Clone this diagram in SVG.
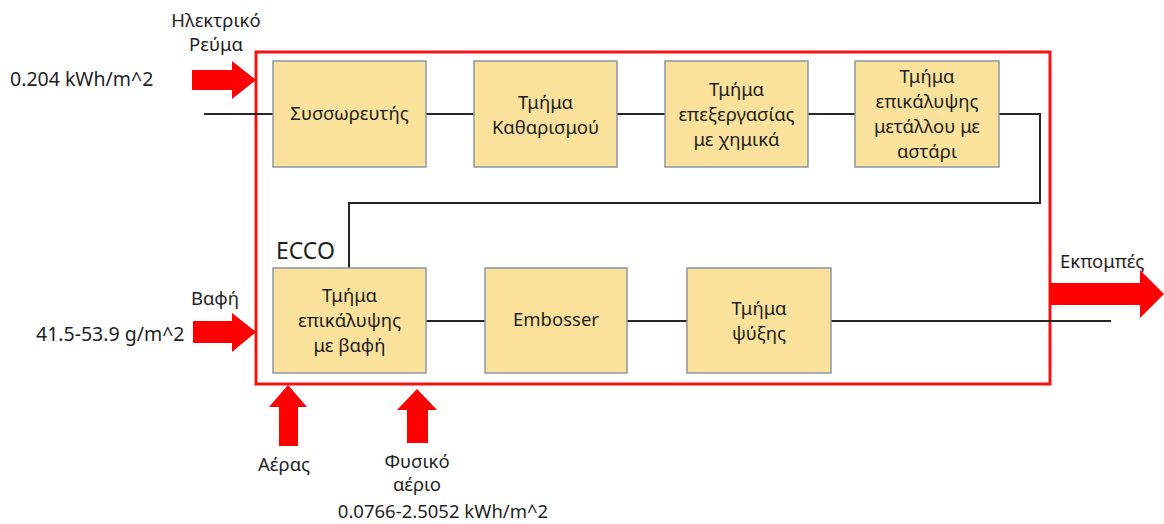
<svg xmlns="http://www.w3.org/2000/svg" width="1164" height="524" viewBox="0 0 1164 524">
  <style>
    text { font-family: "Noto Sans", "Liberation Sans", sans-serif; font-size: 18.5px; fill: #1e1e1e; }
    .c { text-anchor: middle; }
    .lbl { font-size: 19.5px; }
    .box { fill: #FAE29C; stroke: #8C96A3; stroke-width: 1.5; }
    .wire { fill: none; stroke: #262626; stroke-width: 2; }
    .frame { fill: none; stroke: #F01414; stroke-width: 3; }
    .flow { fill: #FF0000; }
  </style>

  <!-- system boundary -->
  <rect class="frame" x="256" y="52" width="794" height="332"/>
  <text x="276" y="259" style="font-size:23px">ECCO</text>

  <!-- process line -->
  <g id="connectors">
    <line class="wire" x1="204" y1="114" x2="273" y2="114"/>
    <line class="wire" x1="426" y1="114" x2="474" y2="114"/>
    <line class="wire" x1="617" y1="114" x2="665" y2="114"/>
    <line class="wire" x1="808" y1="114" x2="855" y2="114"/>
    <polyline class="wire" points="999,114 1040,114 1040,203 349,203 349,268"/>
    <line class="wire" x1="426" y1="321" x2="485" y2="321"/>
    <line class="wire" x1="627" y1="321" x2="687" y2="321"/>
    <line class="wire" x1="831" y1="321" x2="1111" y2="321"/>
  </g>

  <g id="n-accumulator">
    <rect class="box" x="273" y="61" width="153" height="106"/>
    <text class="c" x="349.5" y="120">Συσσωρευτής</text>
  </g>
  <g id="n-cleaning">
    <rect class="box" x="474" y="61" width="143" height="106"/>
    <text class="c" x="545.5" y="109">Τμήμα</text>
    <text class="c" x="545.5" y="134">Καθαρισμού</text>
  </g>
  <g id="n-chemical">
    <rect class="box" x="665" y="61" width="143" height="106"/>
    <text class="c" x="736.5" y="96">Τμήμα</text>
    <text class="c" x="736.5" y="121">επεξεργασίας</text>
    <text class="c" x="736.5" y="146">με χημικά</text>
  </g>
  <g id="n-primer">
    <rect class="box" x="855" y="61" width="144" height="106"/>
    <text class="c" x="927" y="83">Τμήμα</text>
    <text class="c" x="927" y="108">επικάλυψης</text>
    <text class="c" x="927" y="133">μετάλλου με</text>
    <text class="c" x="927" y="158">αστάρι</text>
  </g>
  <g id="n-paint">
    <rect class="box" x="273" y="268" width="153" height="105"/>
    <text class="c" x="349.5" y="302">Τμήμα</text>
    <text class="c" x="349.5" y="327">επικάλυψης</text>
    <text class="c" x="349.5" y="352">με βαφή</text>
  </g>
  <g id="n-embosser">
    <rect class="box" x="485" y="268" width="142" height="105"/>
    <text class="c" x="556" y="326">Embosser</text>
  </g>
  <g id="n-cooling">
    <rect class="box" x="687" y="268" width="144" height="105"/>
    <text class="c" x="759" y="315">Τμήμα</text>
    <text class="c" x="759" y="340">ψύξης</text>
  </g>

  <!-- inputs and outputs -->
  <g id="in-electricity">
    <polygon class="flow" points="192,70 232,70 232,61 256,80 232,99 232,90 192,90"/>
    <text class="c" x="216" y="27">Ηλεκτρικό</text>
    <text class="c" x="216" y="51">Ρεύμα</text>
    <text class="lbl" x="10" y="86">0.204 kWh/m^2</text>
  </g>
  <g id="in-paint">
    <polygon class="flow" points="193,321 232,321 232,313 256,332 232,352 232,343 193,343"/>
    <text class="c" x="215" y="305">Βαφή</text>
    <text class="lbl" x="36" y="341">41.5-53.9 g/m^2</text>
  </g>
  <g id="in-air">
    <polygon class="flow" points="279,446 279,407 269,407 288,385 307,407 298,407 298,446"/>
    <text class="c" x="284" y="471">Αέρας</text>
  </g>
  <g id="in-gas">
    <polygon class="flow" points="407,443 407,410 397,410 417,389 437,410 428,410 428,443"/>
    <text class="c" x="417" y="468">Φυσικό</text>
    <text class="c" x="417" y="491">αέριο</text>
    <text class="c" x="443" y="518">0.0766-2.5052 kWh/m^2</text>
  </g>
  <g id="out-emissions">
    <polygon class="flow" points="1050,283 1140,283 1140,270 1164,294 1140,318 1140,305 1050,305"/>
    <text x="1060" y="268">Εκπομπές</text>
  </g>
</svg>
